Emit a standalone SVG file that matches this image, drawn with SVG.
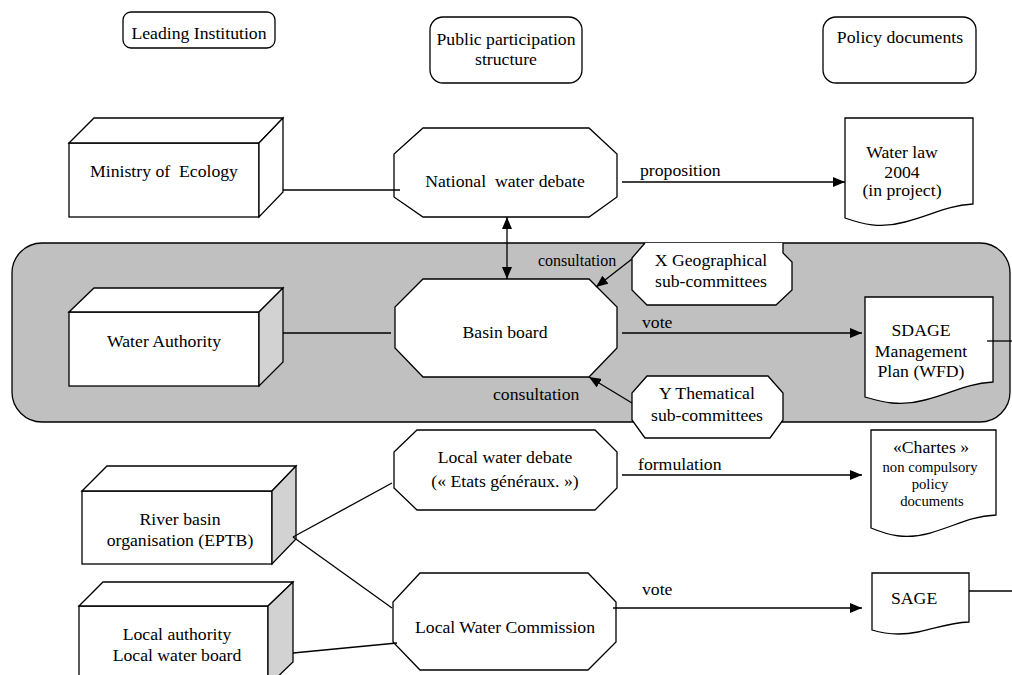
<svg xmlns="http://www.w3.org/2000/svg" width="1012" height="675" viewBox="0 0 1012 675">
<style>
text{font-family:"Liberation Serif","Times New Roman",serif;font-size:17.7px;fill:#000}
.c{text-anchor:middle}
.s{font-size:14.7px}
.sh{fill:#fff;stroke:#000;stroke-width:1.3}
.side{fill:#d2d2d2;stroke:#000;stroke-width:1.3}
.ln{fill:none;stroke:#000;stroke-width:1.3}
</style>
<defs>
<marker id="ah" viewBox="0 0 12 10" refX="12" refY="5" markerWidth="12" markerHeight="10" markerUnits="userSpaceOnUse" orient="auto-start-reverse">
<path d="M0,0 L12,5 L0,10 Z" fill="#000"/>
</marker>
</defs>
<rect width="1012" height="675" fill="#fff"/>

<g id="band">
<rect x="12" y="243" width="998" height="179" rx="30" ry="30" fill="#c0c0c0" stroke="#000" stroke-width="1.3"/>
</g>

<g id="hdr-leading">
<rect class="sh" x="123" y="12" width="152" height="36" rx="8"/>
<text class="c" x="199" y="39">Leading Institution</text>
</g>
<g id="hdr-public">
<rect class="sh" x="430" y="17" width="152" height="66" rx="13"/>
<text class="c" x="506" y="45">Public participation</text>
<text class="c" x="506" y="65">structure</text>
</g>
<g id="hdr-policy">
<rect class="sh" x="823" y="17" width="153" height="66" rx="13"/>
<text class="c" x="900" y="43">Policy documents</text>
</g>

<g id="ministry">
<rect class="sh" x="69" y="143" width="190" height="74"/>
<polygon class="sh" points="69,143 94,118 283,118 259,143"/>
<polygon class="sh" points="259,143 283,118 283,192 259,217"/>
<text class="c" x="164" y="177" xml:space="preserve">Ministry of  Ecology</text>
</g>
<g id="water-authority">
<rect class="sh" x="69" y="312" width="190" height="74"/>
<polygon class="sh" points="69,312 94,288 283,288 259,312"/>
<polygon class="side" points="259,312 283,288 283,362 259,386"/>
<text class="c" x="164" y="347">Water Authority</text>
</g>
<g id="river-basin">
<rect class="sh" x="82" y="491" width="190" height="73"/>
<polygon class="sh" points="82,491 107,466 296,466 272,491"/>
<polygon class="side" points="272,491 296,466 296,539 272,564"/>
<text class="c" x="180" y="525">River basin</text>
<text class="c" x="180" y="546">organisation (EPTB)</text>
</g>
<g id="local-authority">
<rect class="sh" x="79" y="606" width="189" height="80"/>
<polygon class="sh" points="79,606 103,582 293,582 268,606"/>
<polygon class="side" points="268,606 293,582 293,662 268,686"/>
<text class="c" x="177" y="640">Local authority</text>
<text class="c" x="177" y="661">Local water board</text>
</g>

<g id="national-debate">
<polygon class="sh" points="423,128 589,128 617,154 617,197 589,217 423,217 394,197 394,154"/>
<text class="c" x="505" y="187" xml:space="preserve">National  water debate</text>
</g>
<g id="basin-board">
<polygon class="sh" points="423,279 589,279 617,307 617,348 589,377 423,377 395,348 395,307"/>
<text class="c" x="505" y="338">Basin board</text>
</g>
<g id="local-debate">
<polygon class="sh" points="417,430 595,430 617,452 617,488 595,510 417,510 394,488 394,452"/>
<text class="c" x="505" y="463">Local water debate</text>
<text class="c" x="505" y="487">(« Etats généraux. »)</text>
</g>
<g id="local-commission">
<polygon class="sh" points="420,573 588,573 616,602 616,642 588,670 420,670 393,642 393,602"/>
<text class="c" x="505" y="633">Local Water Commission</text>
</g>

<g id="x-geo">
<polygon points="645,243 783,243 783,253 792,262 792,290 776,305 647,305 632,290 632,258" fill="#fff"/>
<polyline class="ln" points="783,243 783,253 792,262 792,290 776,305 647,305 632,290 632,258 645,243"/>
<text class="c" x="711" y="266">X Geographical</text>
<text class="c" x="711" y="287">sub-committees</text>
</g>
<g id="y-them">
<polygon class="sh" points="647,376 768,376 783,393 783,420 770,438 645,438 632,420 632,393"/>
<text class="c" x="707" y="399">Y Thematical</text>
<text class="c" x="707" y="421">sub-committees</text>
</g>

<g id="water-law">
<path class="sh" d="M845,118 H973 V204 C945,206 935,214 905,222 C880,229 862,224 845,218 Z"/>
<text class="c" x="902" y="158">Water law</text>
<text class="c" x="902" y="178">2004</text>
<text class="c" x="902" y="196">(in project)</text>
</g>
<g id="sdage">
<path class="sh" d="M865,297 H993 V382 C965,384 955,392 925,400 C900,407 882,402 865,397 Z"/>
<text class="c" x="921" y="336">SDAGE</text>
<text class="c" x="921" y="357">Management</text>
<text class="c" x="921" y="377">Plan (WFD)</text>
</g>
<g id="chartes">
<path class="sh" d="M871,430 H996 V515 C968,517 958,525 930,533 C905,540 888,535 871,528 Z"/>
<text class="c" x="931" y="453">«Chartes »</text>
<text class="c s" x="930" y="472">non compulsory</text>
<text class="c s" x="930" y="489">policy</text>
<text class="c s" x="932" y="506">documents</text>
</g>
<g id="sage">
<path class="sh" d="M872,573 H969 V622 C948,623 938,628 918,632 C898,636 885,634 872,630 Z"/>
<text x="891" y="604">SAGE</text>
</g>

<g id="connectors">
<line class="ln" x1="283" y1="190" x2="400" y2="190"/>
<line class="ln" x1="622" y1="182" x2="845" y2="182" marker-end="url(#ah)"/>
<line class="ln" x1="507" y1="217" x2="507" y2="279" marker-start="url(#ah)" marker-end="url(#ah)"/>
<line class="ln" x1="283" y1="333" x2="391" y2="333"/>
<line class="ln" x1="622" y1="333" x2="862" y2="333" marker-end="url(#ah)"/>
<line class="ln" x1="632" y1="259" x2="596" y2="287" marker-end="url(#ah)"/>
<line class="ln" x1="632" y1="403" x2="589" y2="377" marker-end="url(#ah)"/>
<line class="ln" x1="987" y1="341" x2="1012" y2="341"/>
<line class="ln" x1="293" y1="537" x2="392" y2="483"/>
<line class="ln" x1="293" y1="537" x2="392" y2="608"/>
<line class="ln" x1="293" y1="653" x2="397" y2="643"/>
<line class="ln" x1="622" y1="475" x2="862" y2="475" marker-end="url(#ah)"/>
<line class="ln" x1="613" y1="608" x2="862" y2="608" marker-end="url(#ah)"/>
<line class="ln" x1="969" y1="591" x2="1012" y2="591"/>
<text x="640" y="176">proposition</text>
<text x="538" y="266" style="font-size:16px">consultation</text>
<text x="493" y="400">consultation</text>
<text x="642" y="328">vote</text>
<text x="638" y="470">formulation</text>
<text x="642" y="595">vote</text>
</g>
</svg>
